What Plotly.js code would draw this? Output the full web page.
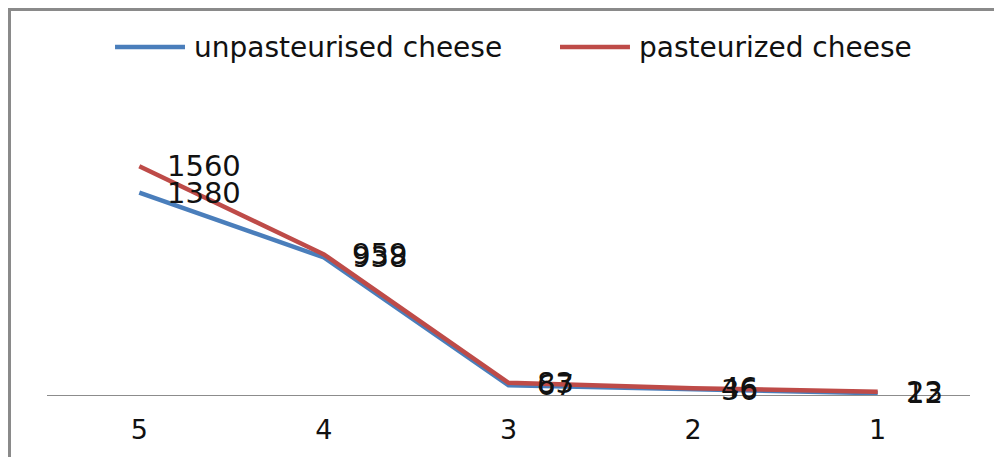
<!DOCTYPE html>
<html>
<head>
<meta charset="utf-8">
<script src="https://cdn.plot.ly/plotly-3.0.1.min.js"></script>
<style>
  html, body { margin: 0; padding: 0; background: #fff; overflow: hidden; }
  #chart { position: absolute; left: 11px; top: 11px; width: 980px; height: 446px; overflow: hidden; }
  #frameL { position: absolute; left: 8px; top: 8px; width: 3px; height: 449px; background: #8a8a8a; }
  #frameT { position: absolute; left: 8px; top: 8px; width: 986px; height: 3px; background: #8a8a8a; }
</style>
</head>
<body>
<div id="frameL"></div>
<div id="frameT"></div>
<div id="chart"></div>
<script>
const categories = ["5", "4", "3", "2", "1"];
const unpasteurised = [1380, 938, 67, 36, 12];
const pasteurized = [1560, 959, 83, 46, 23];
const seriesNames = ["unpasteurised cheese", "pasteurized cheese"];
const seriesColors = ["#4A7EBB", "#BE4B48"];

const FONT = "DejaVu Sans, Verdana, sans-serif";
const seriesValues = [unpasteurised, pasteurized];

const traces = seriesValues.map((vals, k) => ({
  type: "scatter",
  mode: "lines",
  x: categories,
  y: vals,
  name: seriesNames[k],
  line: { color: seriesColors[k], width: 4.5 },
  hoverinfo: "x+y+name",
  showlegend: false
}));

const annotations = [];
seriesValues.forEach((vals, k) => {
  vals.forEach((v, i) => {
    annotations.push({
      x: i, y: v, xref: "x", yref: "y",
      text: String(v), showarrow: false,
      xanchor: "left", yanchor: "middle", xshift: 26,
      font: { family: FONT, size: 29, color: "#111" }
    });
  });
});

const legendX = [[0.0737, 0.1495, 0.1571], [0.5558, 0.6316, 0.6392]];
const legendY = 0.9886;
const shapes = [];
seriesNames.forEach((nm, k) => {
  shapes.push({
    type: "line", xref: "paper", yref: "paper",
    x0: legendX[k][0], x1: legendX[k][1], y0: legendY, y1: legendY,
    line: { color: seriesColors[k], width: 4.5 }
  });
  annotations.push({
    x: legendX[k][2], y: legendY, xref: "paper", yref: "paper",
    text: nm, showarrow: false, xanchor: "left", yanchor: "middle",
    font: { family: FONT, size: 28, color: "#111" }
  });
});

const layout = {
  width: 980, height: 446,
  margin: { l: 36, r: 21, t: 32, b: 62 },
  paper_bgcolor: "#fff", plot_bgcolor: "#fff",
  showlegend: false,
  xaxis: {
    type: "category", range: [-0.5, 4.5], showgrid: false, zeroline: false,
    showline: true, linecolor: "#8c8c8c", linewidth: 1,
    ticks: "", ticklabelstandoff: 11,
    tickfont: { family: FONT, size: 27, color: "#111" },
    fixedrange: true
  },
  yaxis: {
    range: [0, 2400], visible: false, showgrid: false, zeroline: false,
    fixedrange: true
  },
  shapes: shapes,
  annotations: annotations
};

Plotly.newPlot("chart", traces, layout, { displayModeBar: false, staticPlot: true });
</script>
</body>
</html>
